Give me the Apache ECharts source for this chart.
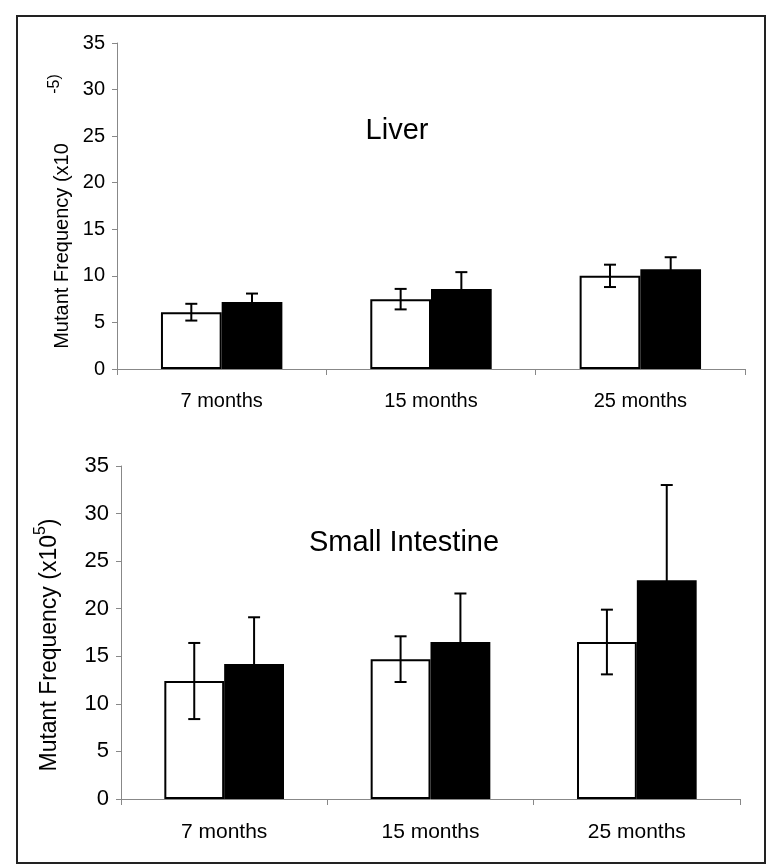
<!DOCTYPE html>
<html>
<head>
<meta charset="utf-8">
<script src="https://cdn.jsdelivr.net/npm/echarts@6/dist/echarts.min.js"></script>
<style>
html,body{margin:0;padding:0;background:#fff;}
#chart{width:768px;height:867px;}
</style>
</head>
<body>
<div id="chart"></div>
<script>
var categories = ['7 months', '15 months', '25 months'];
var yTicks = [0, 5, 10, 15, 20, 25, 30, 35];

var liverWhite = [6.1, 7.5, 10.0];
var liverWhiteErr = [0.9, 1.1, 1.2];
var liverBlack = [7.2, 8.6, 10.7];
var liverBlackErr = [0.9, 1.8, 1.3];

var intWhite = [12.4, 14.7, 16.5];
var intWhiteErr = [4.0, 2.4, 3.4];
var intBlack = [14.2, 16.5, 23.0];
var intBlackErr = [4.9, 5.1, 10.0];

var FONT = 'Liberation Sans, Arial, sans-serif';
var GAP = 0.42;

function errData(vals, errs) {
  return vals.map(function (v, i) { return [i, v - errs[i], v + errs[i]]; });
}
function errRender(sign) {
  return function (params, api) {
    var ci = api.value(0), lo = api.value(1), hi = api.value(2);
    var band = api.size([1, 0])[0];
    var bw = band * (1 - GAP) / 2;
    var x = api.coord([ci, 0])[0] + sign * bw / 2;
    var yLo = api.coord([ci, lo])[1];
    var yHi = api.coord([ci, hi])[1];
    var c = 6;
    var st = { stroke: '#000', lineWidth: 2 };
    return {
      type: 'group',
      children: [
        { type: 'line', shape: { x1: x, y1: yLo, x2: x, y2: yHi }, style: st },
        { type: 'line', shape: { x1: x - c, y1: yHi, x2: x + c, y2: yHi }, style: st },
        { type: 'line', shape: { x1: x - c, y1: yLo, x2: x + c, y2: yLo }, style: st }
      ]
    };
  };
}

function xAxis(idx, fs, margin) {
  return {
    type: 'category', gridIndex: idx, data: categories,
    axisLine: { lineStyle: { color: '#888', width: 1 } },
    axisTick: { show: true, length: 6, lineStyle: { color: '#888' } },
    axisLabel: { color: '#000', fontSize: fs, fontFamily: FONT, margin: margin }
  };
}
function yAxis(idx, fs) {
  return {
    type: 'value', gridIndex: idx, min: yTicks[0], max: yTicks[yTicks.length - 1], interval: 5,
    axisLine: { show: true, lineStyle: { color: '#888', width: 1 } },
    axisTick: { show: true, length: 5, lineStyle: { color: '#888' } },
    splitLine: { show: false },
    axisLabel: { color: '#000', fontSize: fs, fontFamily: FONT, margin: 12 }
  };
}

var chart = echarts.init(document.getElementById('chart'), null, { renderer: 'canvas' });
chart.setOption({
  backgroundColor: '#fff',
  animation: false,
  grid: [
    { left: 117, top: 43, width: 628, height: 326 },
    { left: 121, top: 466, width: 619, height: 333 }
  ],
  xAxis: [xAxis(0, 20, 22), xAxis(1, 21, 23)],
  yAxis: [yAxis(0, 20), yAxis(1, 22)],
  graphic: [
    { type: 'rect', shape: { x: 17, y: 16, width: 748, height: 847 }, style: { fill: 'none', stroke: '#222', lineWidth: 2 }, z: 100 },
    { type: 'text', x: 397, y: 131, style: { text: 'Liver', fontSize: 29, fontFamily: FONT, fill: '#000', textAlign: 'center', textVerticalAlign: 'middle' } },
    { type: 'text', x: 404, y: 543, style: { text: 'Small Intestine', fontSize: 29, fontFamily: FONT, fill: '#000', textAlign: 'center', textVerticalAlign: 'middle' } },
    { type: 'text', x: 62, y: 246, rotation: Math.PI / 2, style: { text: 'Mutant Frequency (x10', fontSize: 20, fontFamily: FONT, fill: '#000', textAlign: 'center', textVerticalAlign: 'middle' } },
    { type: 'text', x: 55, y: 84, rotation: Math.PI / 2, style: { text: '-5)', fontSize: 16, fontFamily: FONT, fill: '#000', textAlign: 'center', textVerticalAlign: 'middle' } },
    { type: 'text', x: 47, y: 645, rotation: Math.PI / 2, style: {
        text: '{n|Mutant Frequency (x10}{s|5}{n|)}', fontFamily: FONT, fill: '#000', textAlign: 'center', textVerticalAlign: 'middle',
        rich: {
          n: { fontSize: 23, fontFamily: FONT, fill: '#000', verticalAlign: 'bottom', lineHeight: 28 },
          s: { fontSize: 16, fontFamily: FONT, fill: '#000', verticalAlign: 'top', lineHeight: 28 }
        } } }
  ],
  series: [
    { type: 'bar', xAxisIndex: 0, yAxisIndex: 0, data: liverWhite, barGap: '0%', barCategoryGap: '42%',
      itemStyle: { color: '#fff', borderColor: '#000', borderWidth: 2 } },
    { type: 'bar', xAxisIndex: 0, yAxisIndex: 0, data: liverBlack, barGap: '0%', barCategoryGap: '42%',
      itemStyle: { color: '#000', borderColor: '#000', borderWidth: 2 } },
    { type: 'custom', xAxisIndex: 0, yAxisIndex: 0, data: errData(liverWhite, liverWhiteErr), renderItem: errRender(-1), z: 10 },
    { type: 'custom', xAxisIndex: 0, yAxisIndex: 0, data: errData(liverBlack, liverBlackErr), renderItem: errRender(1), z: 10 },
    { type: 'bar', xAxisIndex: 1, yAxisIndex: 1, data: intWhite, barGap: '0%', barCategoryGap: '42%',
      itemStyle: { color: '#fff', borderColor: '#000', borderWidth: 2 } },
    { type: 'bar', xAxisIndex: 1, yAxisIndex: 1, data: intBlack, barGap: '0%', barCategoryGap: '42%',
      itemStyle: { color: '#000', borderColor: '#000', borderWidth: 2 } },
    { type: 'custom', xAxisIndex: 1, yAxisIndex: 1, data: errData(intWhite, intWhiteErr), renderItem: errRender(-1), z: 10 },
    { type: 'custom', xAxisIndex: 1, yAxisIndex: 1, data: errData(intBlack, intBlackErr), renderItem: errRender(1), z: 10 }
  ]
});
</script>
</body>
</html>
